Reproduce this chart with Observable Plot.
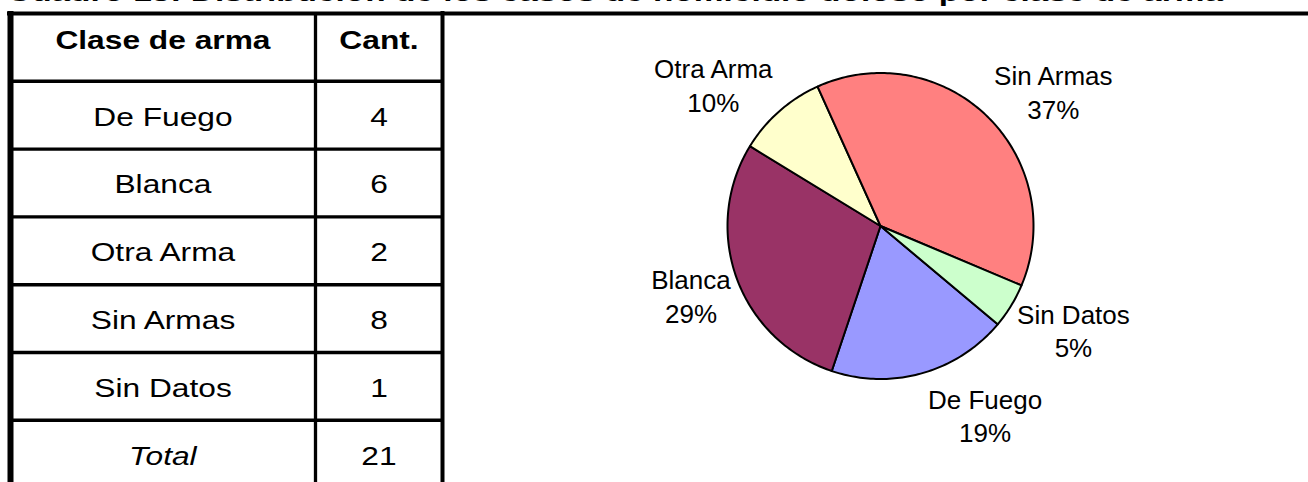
<!DOCTYPE html>
<html>
<head>
<meta charset="utf-8">
<script src="https://cdn.jsdelivr.net/npm/d3@7"></script>
<script src="https://cdn.jsdelivr.net/npm/@observablehq/plot@0.6"></script>
<style>
  html, body { margin: 0; padding: 0; background: #fff; }
  #wrap { position: relative; width: 1308px; height: 482px; overflow: hidden; background: #fff;
          font-family: "Liberation Sans", Arial, sans-serif; }
  #chart { position: absolute; left: 0; top: 0; }
  #title { position: absolute; left: 7px; top: 0; width: 1301px; height: 7px; overflow: hidden; }
  #title span { position: absolute; left: 0; top: -19px; font-size: 24px; line-height: 24px; font-weight: bold;
                white-space: nowrap; color: #000; transform-origin: 0 0; }
</style>
</head>
<body>
<div id="wrap">
  <div id="chart"></div>
  <div id="title"><span id="titleText"></span></div>
</div>
<script>
// ---------- data ----------
const titleText = "Cuadro 15: Distribución de los casos de homicidio doloso por clase de arma";
const headerLabels = ["Clase de arma", "Cant."];
const categories = ["De Fuego", "Blanca", "Otra Arma", "Sin Armas", "Sin Datos"];
const counts = [4, 6, 2, 8, 1];
const percentLabels = ["19%", "29%", "10%", "37%", "5%"];
const totalLabel = "Total";

// ---------- styles / layout ----------
const colors = ["#9999FF", "#993366", "#FFFFCC", "#FF8080", "#CCFFCC"];
const W = 1308, H = 482;
const FONT = "Liberation Sans, Arial, sans-serif";
const colEdges = [10, 315, 442];
const colCenter = [(colEdges[0] + colEdges[1]) / 2, (colEdges[1] + colEdges[2]) / 2];
const rowY = d3.scaleLinear([0, 7], [13, 13 + 7 * 67.8]);
const pieCx = 880, pieCy = 225.5, pieR = 153;
const startAngle = 130 * Math.PI / 180;
const stretch = 1.22;

// ---------- derived ----------
const tableRows = categories.map((c, i) => ({label: c, count: counts[i], row: i + 1}));
const total = d3.sum(counts);

const arcs = d3.pie().sort(null).value(d => d.count)
  .startAngle(startAngle).endAngle(startAngle + 2 * Math.PI)(tableRows);

const slicePts = arcs.flatMap(a => {
  const n = Math.max(2, Math.ceil((a.endAngle - a.startAngle) / (Math.PI / 180)));
  const pts = [{name: a.data.label, x: pieCx, y: pieCy}];
  for (let k = 0; k <= n; k++) {
    const t = a.startAngle + (a.endAngle - a.startAngle) * k / n;
    pts.push({name: a.data.label, x: pieCx + pieR * Math.sin(t), y: pieCy - pieR * Math.cos(t)});
  }
  pts.push({name: a.data.label, x: pieCx, y: pieCy});
  return pts;
});

const ctx = document.createElement("canvas").getContext("2d");
ctx.font = "26px 'Liberation Sans', Arial, sans-serif";
const pieLabels = arcs.map((a, i) => {
  const m = (a.startAngle + a.endAngle) / 2;
  const s = Math.sin(m), c = Math.cos(m);
  const w = Math.max(ctx.measureText(a.data.label).width, ctx.measureText(percentLabels[i]).width);
  return {
    text: a.data.label + "\n" + percentLabels[i],
    x: pieCx + pieR * s + Math.sign(s) * (w / 2 + 6),
    y: pieCy - pieR * c - 40 * c + 3
  };
});

const textBase = {fontFamily: FONT, fontSize: 26, fill: "black", textAnchor: "middle", lineAnchor: "middle"};

const plot = Plot.plot({
  width: W, height: H,
  margin: 0,
  x: {type: "identity", axis: null},
  y: {type: "identity", axis: null},
  color: {domain: categories, range: colors},
  style: {background: "white", overflow: "visible"},
  marks: [
    // pie
    Plot.line(slicePts, {x: "x", y: "y", z: "name", fill: "name", stroke: "black", strokeWidth: 2, strokeLinejoin: "round"}),
    Plot.text(pieLabels, {...textBase, x: "x", y: "y", text: "text", lineHeight: 1.3}),
    // table frame
    Plot.ruleY([rowY(0)], {x1: 7, x2: W + 5, stroke: "black", strokeWidth: 4}),
    Plot.ruleY(d3.range(1, 7).map(i => rowY(i)), {x1: colEdges[0], x2: colEdges[2], stroke: "black", strokeWidth: 3.4}),
    Plot.ruleX([colEdges[0]], {y1: rowY(0) - 2, y2: H + 10, stroke: "black", strokeWidth: 6}),
    Plot.ruleX([colEdges[1]], {y1: rowY(0), y2: H + 10, stroke: "black", strokeWidth: 3.3}),
    Plot.ruleX([colEdges[2]], {y1: rowY(0) - 2, y2: H + 10, stroke: "black", strokeWidth: 4}),
    // table text
    Plot.text(headerLabels, {...textBase, x: (d, i) => colCenter[i], y: rowY(0.5), dy: -6.5, text: d => d, fontWeight: "bold"}),
    Plot.text(tableRows, {...textBase, x: colCenter[0], y: d => rowY(d.row + 0.5), dy: 2, text: "label"}),
    Plot.text(tableRows, {...textBase, x: colCenter[1], y: d => rowY(d.row + 0.5), dy: 2, text: d => String(d.count)}),
    Plot.text([totalLabel], {...textBase, x: colCenter[0], y: rowY(6.5), dy: 2, text: d => d, fontStyle: "italic"}),
    Plot.text([total], {...textBase, x: colCenter[1], y: rowY(6.5), dy: 2, text: d => String(d)})
  ]
});

document.getElementById("chart").appendChild(plot);

// horizontally stretch the table's text (as in the reference)
plot.querySelectorAll("text").forEach(t => {
  const r = t.getBoundingClientRect();
  if (r.right < 460) {
    const b = t.getBBox();
    const cx = b.x + b.width / 2;
    const tr = t.getAttribute("transform") || "";
    t.setAttribute("transform", `${tr} translate(${cx},0) scale(${stretch},1) translate(${-cx},0)`);
  }
});

// title (clipped at the top, as in the reference)
const ts = document.getElementById("titleText");
ts.textContent = titleText;
const tw = ts.getBoundingClientRect().width;
ts.style.transform = `scaleX(${1216 / tw})`;
</script>
</body>
</html>
